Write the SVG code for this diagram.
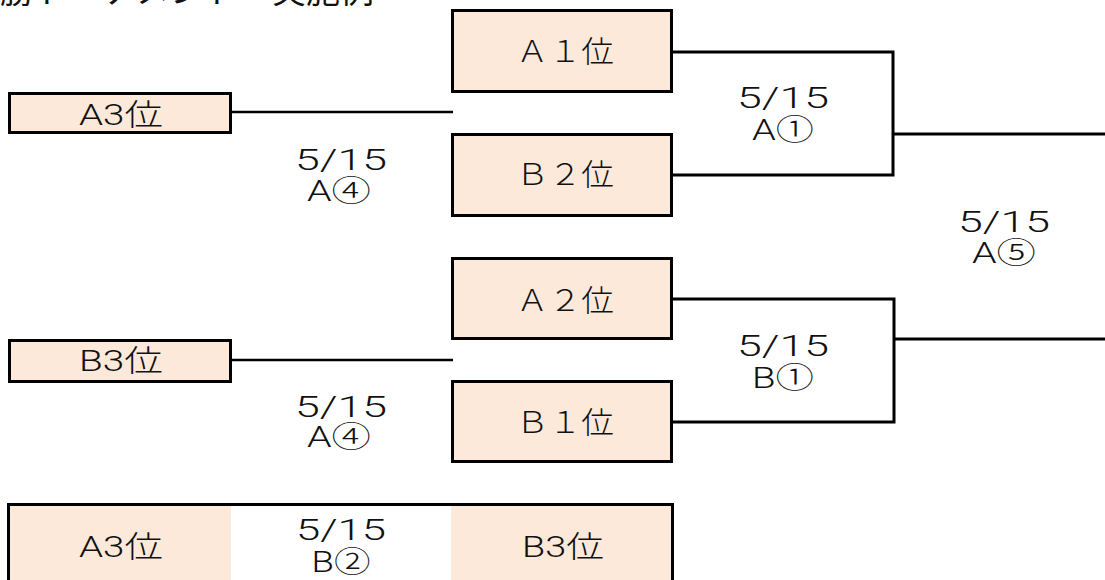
<svg xmlns="http://www.w3.org/2000/svg" width="1105" height="580" viewBox="0 0 1105 580">
<style>
.box{fill:#FCE9DA;stroke:#000;stroke-width:3}
.frame{fill:none;stroke:#000;stroke-width:3}
.cell{fill:#FCE9DA;stroke:none}
.ln{fill:none;stroke:#000;stroke-width:3}
.thin{fill:none;stroke:#000;stroke-width:2.5}
.lbl{font-family:Roboto,"Liberation Sans","Noto Sans CJK JP",sans-serif;font-weight:300;font-size:30px;fill:#111;text-anchor:middle}
.ttl{font-family:"Noto Sans CJK JP",sans-serif;font-size:34px;fill:#111}
</style>
<rect width="1105" height="580" fill="#fff"/>
<text class="ttl" x="-34" y="3">決勝トーナメント　実施例</text>

<g id="connectors">
<path class="thin" d="M231,112 H453"/>
<path class="thin" d="M231,360 H453"/>
<path class="ln" d="M672,52 H893 V175 H672"/>
<path class="ln" d="M893,134 H1105"/>
<path class="ln" d="M672,299 H894 V422 H672"/>
<path class="ln" d="M894,339 H1105"/>
</g>

<g id="node-a3-top">
<rect class="box" x="9.5" y="93.5" width="221" height="39"/>
<text class="lbl" x="121" y="125" textLength="84" lengthAdjust="spacingAndGlyphs">A3位</text>
</g>
<g id="node-a1">
<rect class="box" x="452.5" y="10.5" width="219" height="81"/>
<text class="lbl" x="565" y="62" textLength="98" lengthAdjust="spacingAndGlyphs">Ａ１位</text>
</g>
<g id="node-b2">
<rect class="box" x="452.5" y="134.5" width="219" height="81"/>
<text class="lbl" x="565" y="185" textLength="98" lengthAdjust="spacingAndGlyphs">Ｂ２位</text>
</g>
<g id="node-a2">
<rect class="box" x="452.5" y="258.5" width="219" height="80"/>
<text class="lbl" x="565" y="311" textLength="98" lengthAdjust="spacingAndGlyphs">Ａ２位</text>
</g>
<g id="node-b1">
<rect class="box" x="452.5" y="381.5" width="219" height="80"/>
<text class="lbl" x="565" y="433" textLength="98" lengthAdjust="spacingAndGlyphs">Ｂ１位</text>
</g>
<g id="node-b3-top">
<rect class="box" x="9.5" y="340.5" width="221" height="41"/>
<text class="lbl" x="121" y="371" textLength="84" lengthAdjust="spacingAndGlyphs">B3位</text>
</g>

<g id="label-a4-1">
<text class="lbl" x="341" y="170" textLength="92" lengthAdjust="spacingAndGlyphs">5/15</text>
<text class="lbl" x="339" y="201" textLength="64" lengthAdjust="spacingAndGlyphs">A④</text>
</g>
<g id="label-a1">
<text class="lbl" x="783" y="108" textLength="92" lengthAdjust="spacingAndGlyphs">5/15</text>
<text class="lbl" x="783" y="140" textLength="62" lengthAdjust="spacingAndGlyphs">A①</text>
</g>
<g id="label-a5">
<text class="lbl" x="1004" y="232" textLength="92" lengthAdjust="spacingAndGlyphs">5/15</text>
<text class="lbl" x="1004" y="263" textLength="64" lengthAdjust="spacingAndGlyphs">A⑤</text>
</g>
<g id="label-b1">
<text class="lbl" x="783" y="356" textLength="92" lengthAdjust="spacingAndGlyphs">5/15</text>
<text class="lbl" x="783" y="388" textLength="62" lengthAdjust="spacingAndGlyphs">B①</text>
</g>
<g id="label-a4-2">
<text class="lbl" x="341" y="417" textLength="92" lengthAdjust="spacingAndGlyphs">5/15</text>
<text class="lbl" x="339" y="447" textLength="64" lengthAdjust="spacingAndGlyphs">A④</text>
</g>

<g id="node-bottom">
<rect class="cell" x="9" y="505" width="222" height="80"/>
<rect class="cell" x="451" y="505" width="221" height="80"/>
<rect class="frame" x="8.5" y="504.5" width="664" height="90"/>
<text class="lbl" x="121" y="557" textLength="84" lengthAdjust="spacingAndGlyphs">A3位</text>
<text class="lbl" x="563" y="557" textLength="82" lengthAdjust="spacingAndGlyphs">B3位</text>
<text class="lbl" x="341" y="540" textLength="90" lengthAdjust="spacingAndGlyphs">5/15</text>
<text class="lbl" x="341" y="572" textLength="59" lengthAdjust="spacingAndGlyphs">B②</text>
</g>
</svg>
